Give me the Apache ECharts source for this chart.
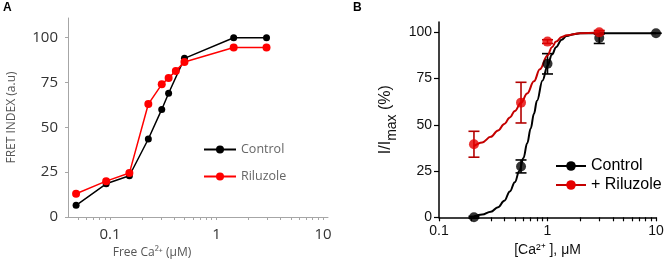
<!DOCTYPE html>
<html>
<head>
<meta charset="UTF-8">
<title>FRET / Ca2+</title>
<script src="https://cdn.jsdelivr.net/npm/echarts@6/dist/echarts.min.js"></script>
<style>html,body{margin:0;padding:0;background:#fff;}</style>
</head>
<body>
<div id="main" style="width:666px;height:270px;"></div>
<script type="text/javascript">
// panel A - FRET index vs free Ca2+
var aCtrlX = [0.048, 0.092, 0.152, 0.229, 0.306, 0.355, 0.5, 1.45, 2.95];
var aCtrlY = [6.5, 18.5, 23, 43.5, 60, 69, 88.5, 100, 100];
var aRilX = [0.048, 0.092, 0.152, 0.229, 0.306, 0.355, 0.415, 0.5, 1.45, 2.95];
var aRilY = [13, 20, 24.5, 63, 74, 77.5, 81.5, 86.5, 94.5, 94.5];

// panel B - I/Imax, points with error (half width) and fitted curves
var bCtrlX = [0.21, 0.57, 1.0, 3.0, 10];
var bCtrlY = [0, 27.5, 83, 97, 99.5];
var bCtrlErr = [0.5, 3.5, 5.5, 3, 0];
var bRilX = [0.21, 0.57, 1.0, 3.0];
var bRilY = [39.5, 62, 95, 100];
var bRilErr = [7, 11, 1, 1];

var bCtrlFitX = [0.21, 0.25, 0.3, 0.35, 0.4, 0.45, 0.5, 0.55, 0.6, 0.65, 0.7, 0.75, 0.8, 0.9, 1.0, 1.1, 1.2, 1.35, 1.5, 1.75, 2, 3, 5, 10];
var bCtrlFitY = [0.5, 1.5, 3, 5.5, 9, 14, 19, 25, 32, 40, 48, 56, 63, 74, 82, 88, 92, 96, 98, 99, 99.5, 99.5, 99.5, 99.5];
var bRilFitX = [0.21, 0.25, 0.3, 0.35, 0.4, 0.45, 0.5, 0.57, 0.65, 0.75, 0.85, 1.0, 1.1, 1.2, 1.35, 1.5, 2, 3];
var bRilFitY = [38.5, 40.5, 43.5, 47, 50.5, 54, 57.5, 62, 67, 73.5, 80, 87.5, 92, 95, 97.5, 98.5, 99.5, 100];

// log axes
var majorTicks = [0.1, 1, 10];
var minorTicksA = [0.05, 0.06, 0.07, 0.08, 0.09, 0.1, 0.2, 0.3, 0.4, 0.5, 0.6, 0.7, 0.8, 0.9, 1, 2, 3, 4, 5, 6, 7, 8, 9, 10];
var minorTicksB = [0.1, 0.2, 0.3, 0.4, 0.5, 0.6, 0.7, 0.8, 0.9, 1, 2, 3, 4, 5, 6, 7, 8, 9, 10];
var yTicks = [0, 25, 50, 75, 100];

function lg(v) { return Math.log10(v); }
function pairs(xs, ys) { return xs.map(function (x, i) { return [lg(x), ys[i]]; }); }
function errs(xs, ys, e) { return xs.map(function (x, i) { return [lg(x), ys[i] - e[i], ys[i] + e[i]]; }); }
function logLabel(v) {
    var r = Math.round(Math.pow(10, v) * 1000) / 1000;
    return String(r);
}
function errBar(color) {
    return function (params, api) {
        var x = api.value(0);
        var p1 = api.coord([x, api.value(1)]);
        var p2 = api.coord([x, api.value(2)]);
        var w = 5.5;
        var st = { stroke: color, lineWidth: 1.6 };
        return {
            type: 'group',
            children: [
                { type: 'line', shape: { x1: p1[0], y1: p1[1], x2: p2[0], y2: p2[1] }, style: st },
                { type: 'line', shape: { x1: p1[0] - w, y1: p1[1], x2: p1[0] + w, y2: p1[1] }, style: st },
                { type: 'line', shape: { x1: p2[0] - w, y1: p2[1], x2: p2[0] + w, y2: p2[1] }, style: st }
            ]
        };
    };
}

var fontA = '"Open Sans", sans-serif';
var fontB = '"Liberation Sans", Arial, sans-serif';
var greyA = '#a6a6a6';

var myChart = echarts.init(document.getElementById('main'));

myChart.setOption({
    animation: false,
    backgroundColor: '#fff',
    title: [
        { text: 'A', left: 3, top: 2, padding: 0, textStyle: { fontSize: 12, fontWeight: 'bold', color: '#000', fontFamily: fontB } },
        { text: 'B', left: 353, top: 2, padding: 0, textStyle: { fontSize: 12, fontWeight: 'bold', color: '#000', fontFamily: fontB } }
    ],
    legend: [
        {
            data: ['Control', 'Riluzole'],
            orient: 'vertical',
            left: 198, top: 138,
            itemWidth: 32, itemHeight: 10, itemGap: 14,
            textStyle: { fontSize: 12.5, color: '#666', fontFamily: fontA }
        },
        {
            data: ['Control ', '+ Riluzole'],
            orient: 'vertical',
            left: 550, top: 153,
            itemWidth: 30, itemHeight: 12, itemGap: 3,
            textStyle: { fontSize: 16, color: '#000', fontFamily: fontB }
        }
    ],
    grid: [
        { left: 68, top: 18, width: 260, height: 199, containLabel: false, outerBoundsMode: 'none' },
        { left: 439, top: 22, width: 217, height: 195.3, containLabel: false, outerBoundsMode: 'none' }
    ],
    xAxis: [
        {
            gridIndex: 0, type: 'value',
            min: lg(0.0403), max: lg(11.15),
            name: 'Free Ca²⁺ (μM)', nameLocation: 'middle', nameGap: 26,
            nameTextStyle: { fontSize: 12, color: '#555', fontFamily: fontA, padding: [0, 92, 0, 0] },
            axisLine: { onZero: false, lineStyle: { color: greyA, width: 1 } },
            axisTick: { customValues: minorTicksA.map(lg), length: 3, lineStyle: { color: greyA } },
            axisLabel: { customValues: majorTicks.map(lg), formatter: logLabel, margin: 10, fontSize: 15, color: '#333', fontFamily: fontA },
            splitLine: { show: false }
        },
        {
            gridIndex: 1, type: 'value',
            min: lg(0.1), max: lg(10),
            name: '[Ca²⁺ ], μM', nameLocation: 'middle', nameGap: 24,
            nameTextStyle: { fontSize: 14, color: '#111', fontFamily: fontB },
            axisLine: { onZero: false, lineStyle: { color: '#000', width: 1.5 } },
            axisTick: { customValues: minorTicksB.map(lg), length: 4, lineStyle: { color: '#000', width: 1.2 } },
            axisLabel: { customValues: majorTicks.map(lg), formatter: logLabel, margin: 7, fontSize: 14, color: '#111', fontFamily: fontB },
            splitLine: { show: false }
        }
    ],
    yAxis: [
        {
            gridIndex: 0, type: 'value', min: 0, max: 111,
            name: 'FRET INDEX (a.u)', nameLocation: 'middle', nameGap: 50, nameRotate: 90,
            nameTextStyle: { fontSize: 12, color: '#555', fontFamily: fontA },
            axisLine: { show: true, onZero: false, lineStyle: { color: greyA, width: 1 } },
            axisTick: { show: true, customValues: yTicks, length: 3, lineStyle: { color: greyA } },
            axisLabel: { customValues: yTicks, margin: 10, fontSize: 15, color: '#333', fontFamily: fontA },
            splitLine: { show: false }
        },
        {
            gridIndex: 1, type: 'value', min: 0, max: 105.6,
            name: '{a|I/I}{s|max}{a| (%)}', nameLocation: 'middle', nameGap: 40, nameRotate: 90,
            nameTextStyle: {
                fontFamily: fontB, color: '#111',
                rich: {
                    a: { fontSize: 16, fontFamily: fontB, color: '#111', padding: [0, 0, 5, 0], verticalAlign: 'bottom' },
                    s: { fontSize: 14, fontFamily: fontB, color: '#111', verticalAlign: 'bottom' }
                }
            },
            axisLine: { show: true, onZero: false, lineStyle: { color: '#000', width: 1.5 } },
            axisTick: { show: true, customValues: yTicks, length: 5, lineStyle: { color: '#000', width: 1.2 } },
            axisLabel: { customValues: yTicks, margin: 7, fontSize: 14, color: '#111', fontFamily: fontB },
            splitLine: { show: false }
        }
    ],
    series: [
        {
            name: 'Control', type: 'line', xAxisIndex: 0, yAxisIndex: 0,
            data: pairs(aCtrlX, aCtrlY),
            symbol: 'circle', symbolSize: 7, showSymbol: true,
            lineStyle: { color: '#000', width: 1.5 }, itemStyle: { color: '#000' }, z: 3
        },
        {
            name: 'Riluzole', type: 'line', xAxisIndex: 0, yAxisIndex: 0,
            data: pairs(aRilX, aRilY),
            symbol: 'circle', symbolSize: 8, showSymbol: true,
            lineStyle: { color: '#ff0000', width: 1.5 }, itemStyle: { color: '#ff0000' }, z: 4
        },
        {
            name: 'Control ', type: 'line', xAxisIndex: 1, yAxisIndex: 1,
            data: pairs(bCtrlFitX, bCtrlFitY),
            smooth: 0.4, smoothMonotone: 'x', showSymbol: false, symbol: 'circle',
            lineStyle: { color: '#000', width: 2 }, itemStyle: { color: '#000' }, z: 3
        },
        {
            name: '+ Riluzole', type: 'line', xAxisIndex: 1, yAxisIndex: 1,
            data: pairs(bRilFitX, bRilFitY),
            smooth: 0.4, smoothMonotone: 'x', showSymbol: false, symbol: 'circle',
            lineStyle: { color: '#c40000', width: 2 }, itemStyle: { color: '#e60000' }, z: 3
        },
        {
            type: 'custom', xAxisIndex: 1, yAxisIndex: 1,
            data: errs(bCtrlX, bCtrlY, bCtrlErr),
            encode: { x: 0, y: [1, 2] },
            renderItem: errBar('#000'), z: 2
        },
        {
            type: 'custom', xAxisIndex: 1, yAxisIndex: 1,
            data: errs(bRilX, bRilY, bRilErr),
            encode: { x: 0, y: [1, 2] },
            renderItem: errBar('#b30000'), z: 2
        },
        {
            name: 'ctrl pts', type: 'scatter', xAxisIndex: 1, yAxisIndex: 1,
            data: pairs(bCtrlX, bCtrlY),
            symbolSize: 10, itemStyle: { color: '#000' }, z: 4
        },
        {
            name: 'ril pts', type: 'scatter', xAxisIndex: 1, yAxisIndex: 1,
            data: pairs(bRilX, bRilY),
            symbolSize: 10, itemStyle: { color: '#e60000' }, z: 5
        }
    ]
});
</script>
</body>
</html>
